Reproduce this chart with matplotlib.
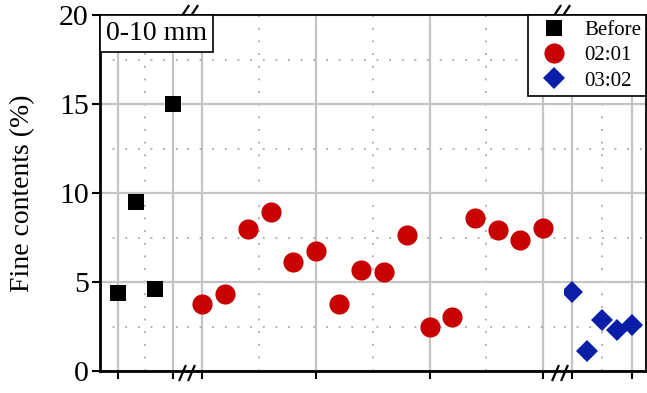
import matplotlib
matplotlib.use('Agg')
import matplotlib.pyplot as plt
from matplotlib.lines import Line2D

plt.rcParams['font.family'] = ['Liberation Serif', 'DejaVu Serif']

# fine contents (%), one list per group
before_idx = [1, 2, 3, 4]
before_val = [4.4, 9.5, 4.6, 15.0]

r21_idx = list(range(1, 17))
r21_val = [3.75, 4.3, 7.95, 8.95, 6.15, 6.75, 3.75, 5.65,
           5.55, 7.65, 2.5, 3.05, 8.6, 7.9, 7.35, 8.05]

r32_idx = [1, 2, 3, 4, 5]
r32_val = [4.45, 1.1, 2.85, 2.3, 2.6]

y_major = [0, 5, 10, 15, 20]
y_minor = [2.5, 7.5, 12.5, 17.5]

RED = '#C80000'
BLUE = '#0A1EA8'
GRID = '#C4C4C4'

W, H = 647, 393
fig = plt.figure(figsize=(W / 100, H / 100), dpi=100)
gs = fig.add_gridspec(1, 3, width_ratios=[87, 377, 82], wspace=0,
                      left=100 / W, right=646 / W, bottom=1 - 371 / H, top=1 - 15 / H)
ax1 = fig.add_subplot(gs[0])
ax2 = fig.add_subplot(gs[1], sharey=ax1)
ax3 = fig.add_subplot(gs[2], sharey=ax1)

segments = [
    (ax1, (0.018, 4.764), [1, 4], [2.5]),
    (ax2, (0.318, 16.92), [1, 6, 11, 16], [3.5, 8.5, 13.5]),
    (ax3, (0.467, 5.93), [1, 5], [3]),
]
for ax, xlim, xmaj, xmin in segments:
    ax.set_xlim(*xlim)
    ax.set_xticks(xmaj)
    ax.set_xticks(xmin, minor=True)
    ax.set_xticklabels([])
    ax.set_yticks(y_major)
    ax.set_yticks(y_minor, minor=True)
    ax.grid(which='major', color=GRID, lw=1.6, zorder=0)
    ax.grid(which='minor', color='#A8A8A8', lw=1.3, ls=(0, (1, 6)), zorder=0)
    ax.tick_params(axis='x', which='major', direction='out', length=6, width=1.5, color='black')
    ax.tick_params(which='minor', length=0)
    ax.set_axisbelow(True)
    for side in ['left', 'right']:
        ax.spines[side].set_visible(False)
    ax.spines['top'].set_linewidth(1.3)
    ax.spines['bottom'].set_linewidth(2.0)

ax1.set_ylim(0, 20)
ax1.spines['left'].set_visible(True)
ax1.spines['left'].set_linewidth(2.0)
ax1.tick_params(axis='y', which='major', direction='out', length=6, width=1.5,
                labelsize=21.5, pad=2)
ax2.tick_params(axis='y', which='both', left=False, labelleft=False)
ax3.tick_params(axis='y', which='both', left=False, labelleft=False)
ax3.spines['right'].set_visible(True)
ax3.spines['right'].set_linewidth(1.3)
ax1.set_ylabel('Fine contents (%)', fontsize=20, labelpad=17)

ax1.plot(before_idx, before_val, ls='none', marker='s', ms=12, color='black',
         mew=0, zorder=3, label='Before')
ax2.plot(r21_idx, r21_val, ls='none', marker='o', ms=14.5, color=RED,
         mew=0, zorder=3, label='02:01')
ax3.plot(r32_idx, r32_val, ls='none', marker='D', ms=11.5, color=BLUE,
         mew=0, zorder=3, label='03:02')

# break marks "//" on top and bottom spines at each segment boundary
def slash_pair(xpix, ytop, ybot):
    for dx in (-4.5, 4.5):
        x0, x1 = xpix + dx - 3, xpix + dx + 3
        fig.add_artist(Line2D([x0 / W, x1 / W], [1 - ybot / H, 1 - ytop / H],
                              transform=fig.transFigure, color='black', lw=1.6))

for xb, xt in [(187, 190), (560, 562)]:
    slash_pair(xt, 6, 15)
    slash_pair(xb, 366, 380)

fig.text(106 / W, 1 - 21 / H, '0-10 mm', fontsize=20, ha='left', va='top',
         bbox=dict(boxstyle='square,pad=0.2', fc='white', ec='black', lw=1.2), zorder=5)

handles = [
    Line2D([], [], ls='none', marker='s', ms=12, color='black', mew=0),
    Line2D([], [], ls='none', marker='o', ms=14.5, color=RED, mew=0),
    Line2D([], [], ls='none', marker='D', ms=11.5, color=BLUE, mew=0),
]
leg = fig.legend(handles, ['Before', '02:01', '03:02'], loc='upper left',
                 bbox_to_anchor=(528 / W, 1 - 15 / H), borderaxespad=0, fontsize=15,
                 frameon=True, fancybox=False, edgecolor='black', framealpha=1,
                 handletextpad=0.45, labelspacing=0.28, borderpad=0.25, handlelength=2.0)
leg.get_frame().set_linewidth(1.2)

fig.savefig('out.png', dpi=100)
